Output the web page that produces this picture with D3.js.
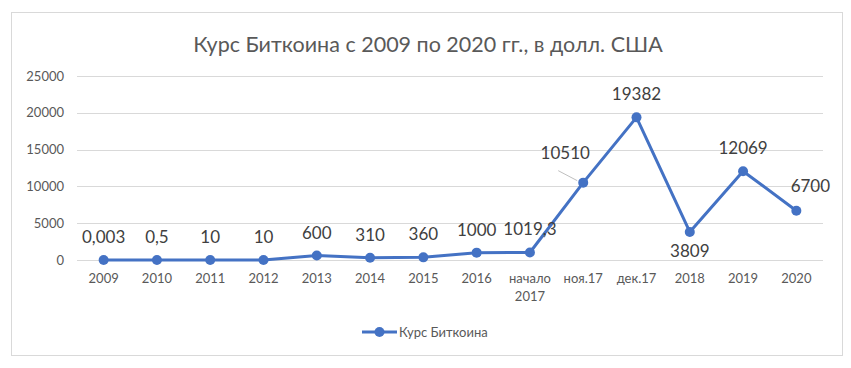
<!DOCTYPE html>
<html>
<head>
	<meta charset="utf-8">
	<title>Курс Биткоина</title>
	<script src="https://d3js.org/d3.v7.min.js"></script>
	<style>
		body { margin: 0; background: #fff; }
		.chart text { font-family: Lato, "Open Sans", sans-serif; }
		.axis .domain, .axis line { display: none; }
		.axis text { fill: #595959; font-size: 13px; }
	</style>
</head>
<body>
<svg class="chart"></svg>
<script>
// Chart data
var categories = ["2009", "2010", "2011", "2012", "2013", "2014", "2015", "2016", "начало 2017", "ноя.17", "дек.17", "2018", "2019", "2020"];
var values = [0.003, 0.5, 10, 10, 600, 310, 360, 1000, 1019.3, 10510, 19382, 3809, 12069, 6700];
var valueLabels = ["0,003", "0,5", "10", "10", "600", "310", "360", "1000", "1019,3", "10510", "19382", "3809", "12069", "6700"];
var yTicks = [0, 5000, 10000, 15000, 20000, 25000];

var width = 851, height = 368;
var plotLeft = 77, plotRight = 823, plotTop = 76, plotBottom = 260;
var color = "#4472C4";

var svg = d3.select(".chart")
	.attr("width", width)
	.attr("height", height);

// outer frame
svg.append("rect")
	.attr("x", 11.5).attr("y", 12.5)
	.attr("width", 831).attr("height", 343)
	.attr("fill", "#fff")
	.attr("stroke", "#d9d9d9");

svg.append("text")
	.attr("x", 428).attr("y", 52)
	.attr("text-anchor", "middle")
	.attr("fill", "#595959")
	.style("font-size", "21.5px")
	.text("Курс Биткоина с 2009 по 2020 гг., в долл. США");

var x = d3.scaleBand()
	.domain(categories)
	.range([plotLeft, plotRight]);

var y = d3.scaleLinear()
	.domain([0, 25000])
	.range([plotBottom, plotTop]);

var cx = function(d, i) { return x(categories[i]) + x.bandwidth() / 2; };

// gridlines
svg.append("g").selectAll("line")
	.data(yTicks)
	.enter().append("line")
	.attr("x1", plotLeft).attr("x2", plotRight)
	.attr("y1", function(d) { return Math.round(y(d)) + 0.5; })
	.attr("y2", function(d) { return Math.round(y(d)) + 0.5; })
	.attr("stroke", "#d9d9d9");

svg.append("g")
	.attr("class", "axis")
	.attr("transform", "translate(" + (plotLeft - 7) + ",0)")
	.call(d3.axisLeft(y).tickValues(yTicks).tickSize(0).tickPadding(6).tickFormat(d3.format("d")));

var xAxis = svg.append("g")
	.attr("class", "axis")
	.attr("transform", "translate(0," + (plotBottom + 8) + ")")
	.call(d3.axisBottom(x).tickSize(0).tickPadding(6));

// wrap the two-word category onto two lines
xAxis.selectAll(".tick text").each(function(d) {
	var parts = d.split(" ");
	if (parts.length > 1) {
		var t = d3.select(this).text(null);
		parts.forEach(function(p, k) {
			t.append("tspan").attr("x", 0).attr("dy", k === 0 ? "0.71em" : "1.4em").text(p);
		});
		t.attr("dy", null);
	}
});

var line = d3.line()
	.x(function(d, i) { return cx(d, i); })
	.y(function(d) { return y(d); });

svg.append("path")
	.datum(values)
	.attr("fill", "none")
	.attr("stroke", color)
	.attr("stroke-width", 3)
	.attr("stroke-linejoin", "round")
	.attr("d", line);

svg.append("g").selectAll("circle")
	.data(values)
	.enter().append("circle")
	.attr("cx", cx)
	.attr("cy", function(d) { return y(d); })
	.attr("r", 5)
	.attr("fill", color);

// label offsets (dx, dy) relative to each point
var offsets = values.map(function(d, i) {
	if (categories[i] === "ноя.17") return [-18, -24];
	if (categories[i] === "2018") return [0, 25];
	if (categories[i] === "2020") return [14, -19];
	return [0, -17];
});

// leader line for the shifted label
var ni = categories.indexOf("ноя.17");
svg.append("line")
	.attr("x1", cx(values[ni], ni) - 25).attr("y1", y(values[ni]) - 12)
	.attr("x2", cx(values[ni], ni) - 6).attr("y2", y(values[ni]) - 2)
	.attr("stroke", "#bfbfbf");

svg.append("g").selectAll("text")
	.data(values)
	.enter().append("text")
	.attr("x", function(d, i) { return cx(d, i) + offsets[i][0]; })
	.attr("y", function(d, i) { return y(d) + offsets[i][1]; })
	.attr("text-anchor", "middle")
	.attr("fill", "#404040")
	.style("font-size", "17px")
	.text(function(d, i) { return valueLabels[i]; });

// legend
var lg = svg.append("g").attr("transform", "translate(362,332)");
lg.append("line").attr("x1", 0).attr("x2", 35).attr("stroke", color).attr("stroke-width", 3);
lg.append("circle").attr("cx", 17.5).attr("r", 5).attr("fill", color);
lg.append("text")
	.attr("x", 37).attr("y", 4.5)
	.attr("fill", "#595959")
	.style("font-size", "13px")
	.text("Курс Биткоина");
</script>
</body>
</html>
